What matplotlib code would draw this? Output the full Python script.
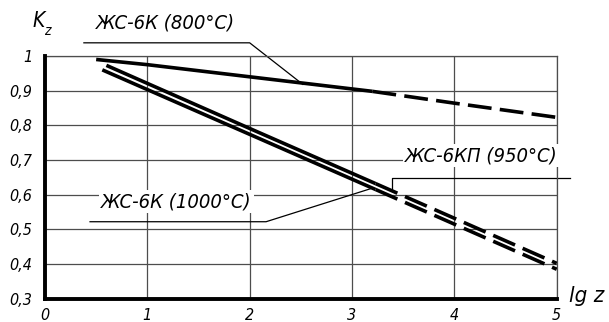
import matplotlib
matplotlib.use("Agg")
import matplotlib.pyplot as plt

# ---- data ----
x_ticks = [0, 1, 2, 3, 4, 5]
x_tick_labels = ["0", "1", "2", "3", "4", "5"]
y_ticks = [0.3, 0.4, 0.5, 0.6, 0.7, 0.8, 0.9, 1.0]
y_tick_labels = ["0,3", "0,4", "0,5", "0,6", "0,7", "0,8", "0,9", "1"]

# ЖС-6К (800°C)
x800_solid = [0.5, 1.0, 2.0, 3.2]
y800_solid = [0.99, 0.975, 0.94, 0.898]
x800_dash = [3.2, 4.0, 5.0]
y800_dash = [0.898, 0.864, 0.823]

# ЖС-6КП (950°C)
x950_solid = [0.6, 2.0, 3.23]
y950_solid = [0.973, 0.791, 0.632]
x950_dash = [3.23, 4.0, 5.0]
y950_dash = [0.632, 0.532, 0.402]

# ЖС-6К (1000°C)
x1000_solid = [0.56, 2.0, 3.23]
y1000_solid = [0.960, 0.774, 0.615]
x1000_dash = [3.23, 4.0, 5.0]
y1000_dash = [0.615, 0.515, 0.385]

label800 = "ЖС-6К (800°С)"
label950 = "ЖС-6КП (950°С)"
label1000 = "ЖС-6К (1000°С)"

W, H = 609, 322
fig = plt.figure(figsize=(W / 100, H / 100), dpi=100)
L, R, B, T = 45, 556.7, 298.7, 56
ax = fig.add_axes([L / W, 1 - B / H, (R - L) / W, (B - T) / H])
ax.set_xlim(0, 5)
ax.set_ylim(0.3, 1.0)

FONT = dict(family=["DejaVu Sans"], style="italic", stretch="condensed")

ax.set_xticks(x_ticks)
ax.set_xticklabels(x_tick_labels, fontsize=11.5, **FONT)
ax.set_yticks(y_ticks)
ax.set_yticklabels(y_tick_labels, fontsize=11.5, **FONT)
ax.tick_params(length=0)
ax.tick_params(axis="x", pad=7)
ax.tick_params(axis="y", pad=9)

ax.grid(True, color="#4d4d4d", lw=0.9)
ax.set_axisbelow(True)
for s in ["top", "right"]:
    ax.spines[s].set_color("#4d4d4d")
    ax.spines[s].set_linewidth(0.9)
for s in ["left", "bottom"]:
    ax.spines[s].set_color("black")
    ax.spines[s].set_linewidth(2.8)
    ax.spines[s].set_zorder(5)

LW = 2.6
DASH = (0, (6.6, 2.3))
for xs, ys, xd, yd in [
    (x800_solid, y800_solid, x800_dash, y800_dash),
    (x950_solid, y950_solid, x950_dash, y950_dash),
    (x1000_solid, y1000_solid, x1000_dash, y1000_dash),
]:
    ax.plot(xs, ys, color="black", lw=LW, solid_capstyle="butt", zorder=3)
    ax.plot(xd, yd, color="black", lw=LW, ls=DASH, dash_capstyle="butt", zorder=3)

# leader lines
LL = dict(color="black", lw=0.9, clip_on=False, zorder=2)
ax.plot([0.38, 2.0, 2.52], [1.038, 1.038, 0.918], **LL)
ax.plot([0.44, 2.16, 3.2], [0.522, 0.522, 0.619], **LL)
ax.plot([3.39, 3.39, 5.13], [0.612, 0.649, 0.649], **LL)

TF = dict(fontsize=14.5, va="center", ha="left", **FONT)
ax.text(0.50, 1.094, label800, clip_on=False, **TF)
ax.text(0.55, 0.58, label1000, clip_on=False, zorder=4,
        bbox=dict(facecolor="white", edgecolor="none", pad=1.5), **TF)
ax.text(3.52, 0.712, label950, clip_on=False, zorder=4,
        bbox=dict(facecolor="white", edgecolor="none", pad=1.5), **TF)

fig.text(32 / W, 1 - 21 / H, "K", fontsize=15, va="center", ha="left", **FONT)
fig.text(44 / W, 1 - 31 / H, "z", fontsize=10, va="center", ha="left", **FONT)
fig.text(569 / W, 1 - 296 / H, "lg z", fontsize=16, va="center", ha="left", **FONT)

fig.savefig("out.png", dpi=100)
